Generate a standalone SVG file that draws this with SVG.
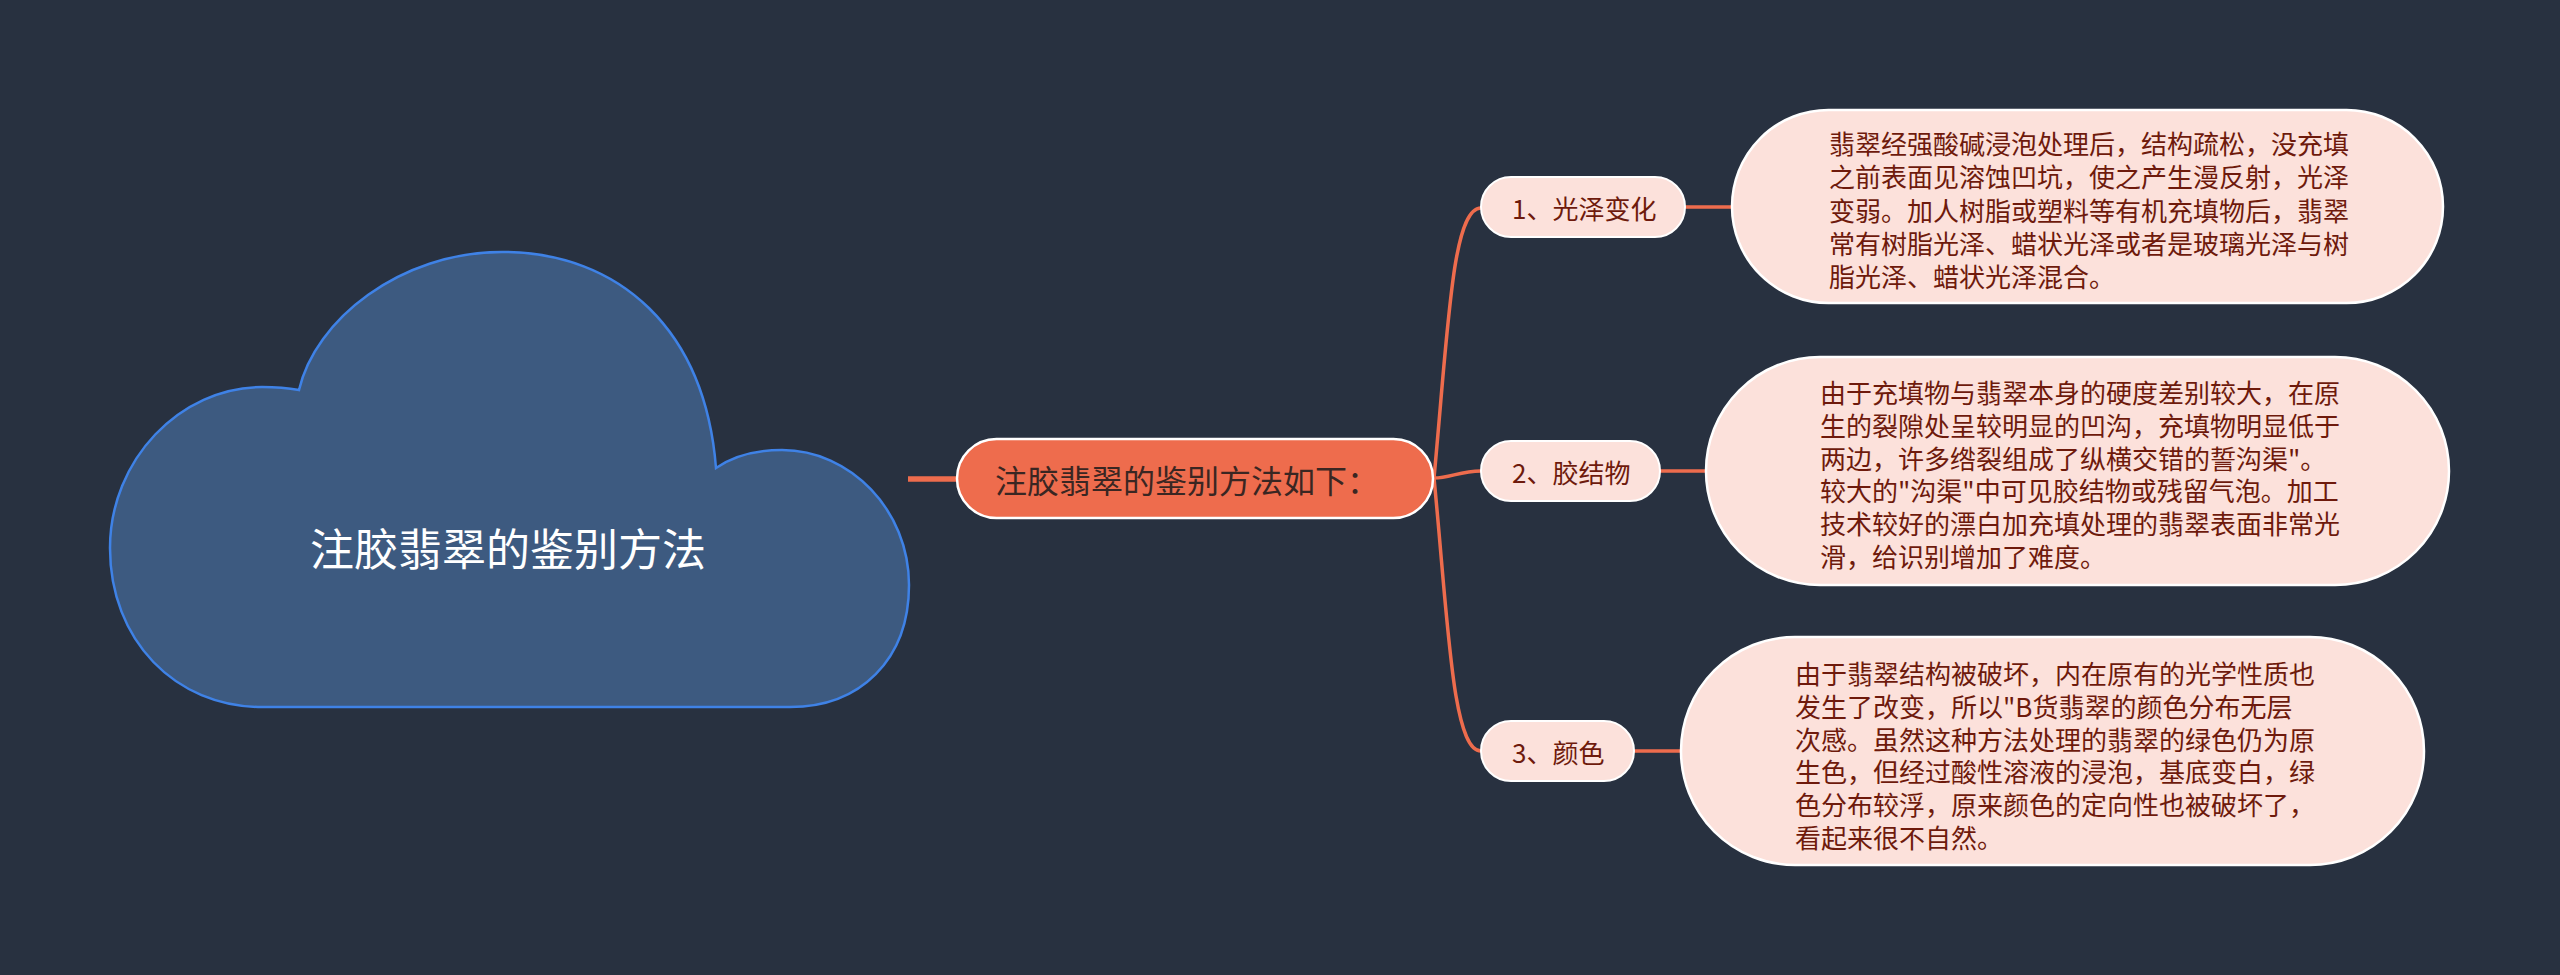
<svg xmlns="http://www.w3.org/2000/svg" width="2560" height="975" viewBox="0 0 2560 975">
<style>
.bg{fill:#283140}
.cloud{fill:#3d5a80;stroke:#3f82e6;stroke-width:2.5}
.ctext{font-family:"Noto Sans CJK SC","Noto Sans",sans-serif;font-size:44px;fill:#ffffff}
.main{fill:#ee6c4d;stroke:#ffffff;stroke-width:2.5}
.mtext{font-family:"Noto Sans CJK SC","Noto Sans",sans-serif;font-size:32px;fill:#3a2622}
.br{fill:#fce1db;stroke:#ffffff;stroke-width:2}
.btext{font-family:"Noto Sans CJK SC","Noto Sans",sans-serif;font-size:26px;fill:#6e1a0c}
.leaf{fill:#fce1db;stroke:#ffffff;stroke-width:2.5}
.ltext{font-family:"Noto Sans CJK SC","Noto Sans",sans-serif;font-size:26px;fill:#6e1a0c}
.conn{fill:none;stroke:#ee6c4d;stroke-width:3.5;stroke-linecap:round}
</style>
<rect class="bg" x="0" y="0" width="2560" height="975"/>
<g id="connectors">
<line class="conn" x1="908" y1="479" x2="957" y2="479" style="stroke-width:5.5;stroke-linecap:butt"/>
<path class="conn" d="M1434,478 C1448,330 1452,208 1481,208"/>
<path class="conn" d="M1434,478 C1450,478 1460,471 1481,471"/>
<path class="conn" d="M1434,478 C1448,620 1452,751 1481,751"/>
<line class="conn" x1="1685" y1="207" x2="1732" y2="207"/>
<line class="conn" x1="1660" y1="471" x2="1707" y2="471"/>
<line class="conn" x1="1634" y1="751" x2="1682" y2="751"/>
</g>
<g id="root">
<path class="cloud" d="M299,390 C315,320 400,252 502,252 C620,252 705,330 716,468 C735,455 757,450 782,450 C850,450 909,510 909,585 C909,660 860,707 790,707 L262,707 C175,707 110,640 110,548 C110,460 180,387 262,387 C276,387 288,388 299,390 Z"/>
<text class="ctext" x="508" y="547" text-anchor="middle" dominant-baseline="central">注胶翡翠的鉴别方法</text>
</g>
<g id="main">
<rect class="main" x="957" y="439" width="476" height="79" rx="39.5"/>
<text class="mtext" x="995" y="479" dominant-baseline="central">注胶翡翠的鉴别方法如下：</text>
</g>
<g id="b1">
<rect class="br" x="1481" y="177" width="204" height="60" rx="30"/>
<text class="btext" x="1512" y="207" dominant-baseline="central">1、光泽变化</text>
</g>
<g id="b2">
<rect class="br" x="1481" y="441" width="179" height="60" rx="30"/>
<text class="btext" x="1512" y="471" dominant-baseline="central">2、胶结物</text>
</g>
<g id="b3">
<rect class="br" x="1481" y="721" width="153" height="60" rx="30"/>
<text class="btext" x="1512" y="751" dominant-baseline="central">3、颜色</text>
</g>
<g id="l1">
<rect class="leaf" x="1732" y="110" width="711" height="193" rx="96.5"/>
<g class="ltext">
<text x="1829" y="142" dominant-baseline="central">翡翠经强酸碱浸泡处理后，结构疏松，没充填</text>
<text x="1829" y="175.5" dominant-baseline="central">之前表面见溶蚀凹坑，使之产生漫反射，光泽</text>
<text x="1829" y="209" dominant-baseline="central">变弱。加人树脂或塑料等有机充填物后，翡翠</text>
<text x="1829" y="242" dominant-baseline="central">常有树脂光泽、蜡状光泽或者是玻璃光泽与树</text>
<text x="1829" y="275.5" dominant-baseline="central">脂光泽、蜡状光泽混合。</text>
</g>
</g>
<g id="l2">
<rect class="leaf" x="1706" y="357" width="743" height="228" rx="114"/>
<g class="ltext">
<text x="1820" y="391" dominant-baseline="central">由于充填物与翡翠本身的硬度差别较大，在原</text>
<text x="1820" y="424" dominant-baseline="central">生的裂隙处呈较明显的凹沟，充填物明显低于</text>
<text x="1820" y="457" dominant-baseline="central">两边，许多绺裂组成了纵横交错的誓沟渠"。</text>
<text x="1820" y="489" dominant-baseline="central">较大的"沟渠"中可见胶结物或残留气泡。加工</text>
<text x="1820" y="522" dominant-baseline="central">技术较好的漂白加充填处理的翡翠表面非常光</text>
<text x="1820" y="555" dominant-baseline="central">滑，给识别增加了难度。</text>
</g>
</g>
<g id="l3">
<rect class="leaf" x="1681" y="637" width="743" height="228" rx="114"/>
<g class="ltext">
<text x="1795" y="672" dominant-baseline="central">由于翡翠结构被破坏，内在原有的光学性质也</text>
<text x="1795" y="705" dominant-baseline="central">发生了改变，所以"B货翡翠的颜色分布无层</text>
<text x="1795" y="738" dominant-baseline="central">次感。虽然这种方法处理的翡翠的绿色仍为原</text>
<text x="1795" y="770" dominant-baseline="central">生色，但经过酸性溶液的浸泡，基底变白，绿</text>
<text x="1795" y="803" dominant-baseline="central">色分布较浮，原来颜色的定向性也被破坏了，</text>
<text x="1795" y="836" dominant-baseline="central">看起来很不自然。</text>
</g>
</g>
</svg>
